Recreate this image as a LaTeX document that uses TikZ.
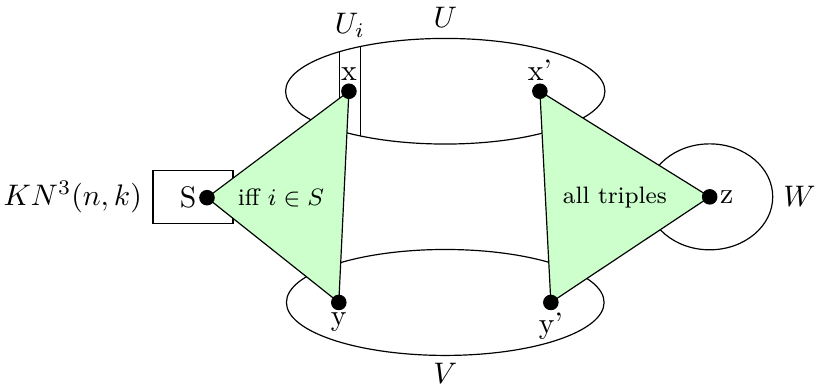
\documentclass[tikz,border=0pt]{standalone}
\usepackage{amsmath, amssymb}
\usepackage{tikz}
\usetikzlibrary{calc,positioning}
\definecolor{lightgreen}{rgb}{0.8,1,0.8}

\begin{document}
\begin{tikzpicture}[scale=1,
    vtx/.style={draw,shape=circle,fill=black,minimum size=1.7mm,inner sep=0},
    gadget/.style={fill=lightgreen,draw=black}]
                  \useasboundingbox (0,0) rectangle (9.67,4.57);

                  % Vertex positions
                  \coordinate (S) at (2.45,2.23);
                  \coordinate (x) at (4.13,3.49);
                  \coordinate (y) at (4.01,0.99);
                  \coordinate (xp) at (6.39,3.49);
                  \coordinate (yp) at (6.52,0.99);
                  \coordinate (z) at (8.40,2.24);

                  % Draw the sets U, V and W
                  \draw (5.27,3.49) ellipse [x radius=1.89, y radius=0.625];
                  \draw (5.27,0.99) ellipse [x radius=1.88, y radius=0.627];
                  \draw (z) ellipse [x radius=0.746, y radius=0.627];

                  % The strip U_i inside U
                  \begin{scope}
                      \clip (5.27,3.49) ellipse [x radius=1.89, y radius=0.625];
                      \draw (4.015,2.6) rectangle (4.27,4.3);
                  \end{scope}

                  % Box round S
                  \node[draw,minimum width=0.947cm,minimum height=0.627cm,inner sep=0]
                      (Sbox) at (2.284,2.24) {};

                  % Gadget triangles
                  \draw[gadget] (S) -- (x) -- (y) -- cycle;
                  \draw[gadget] (xp) -- (yp) -- (z) -- cycle;

                  % Vertices
                  \node[vtx] (Sdot) at (S) {};
                  \node[vtx] (xdot) at (x) {};
                  \node[vtx] (ydot) at (y) {};
                  \node[vtx] (xpdot) at (xp) {};
                  \node[vtx] (ypdot) at (yp) {};
                  \node[vtx] (zdot) at (z) {};

                  % Label the nodes
                  \node[left] (Slab) at (S) {S};
                  \node[above] (xlab) at (x) {x};
                  \node[below] (ylab) at (y) {y};
                  \node[above] (xplab) at (xp) {x'};
                  \node[below] (yplab) at (yp) {y'};
                  \node[right] (zlab) at (z) {z};

                  % Label the sets
                  \node[above] (Ulab) at (5.27,4.115) {$U$};
                  \node[above] (Uilab) at (4.142,3.997) {$U_i$};
                  \node[below] (Vlab) at (5.27,0.40) {$V$};
                  \node[right] (Wlab) at (9.148,2.24) {$W$};
                  \node[left] (KNlab) at (Sbox.west) {$KN^3(n,k)$};

                  % Gadget texts
                  \node[font=\footnotesize] (ifflab) at (3.325,2.225) {iff $i\in S$};
                  \node[font=\footnotesize] (alllab) at (7.278,2.237) {all triples};
              \end{tikzpicture}
\end{document}
